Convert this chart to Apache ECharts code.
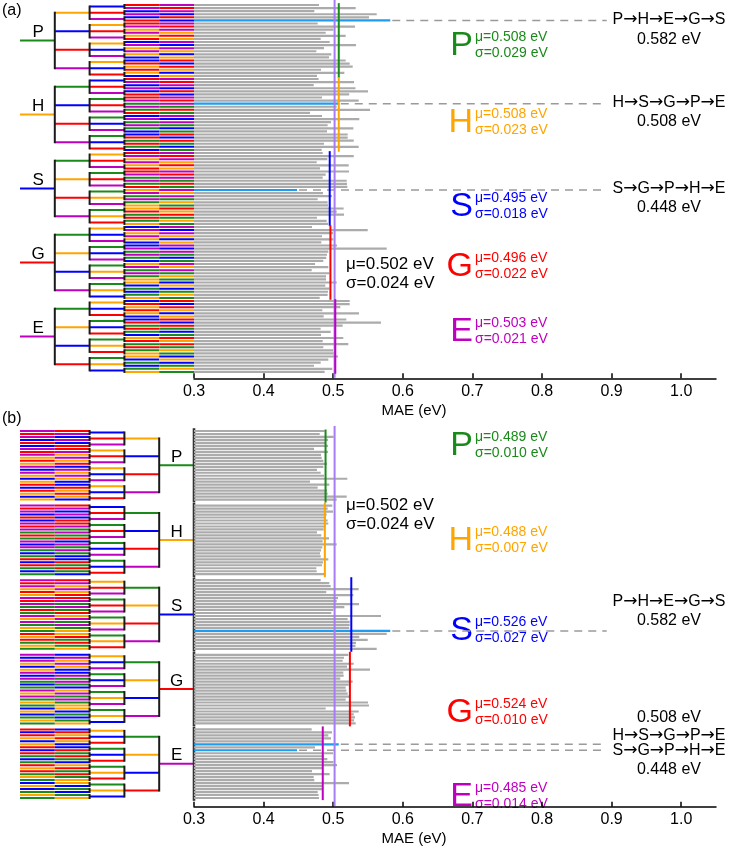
<!DOCTYPE html>
<html>
<head>
<meta charset="utf-8">
<script src="https://cdn.jsdelivr.net/npm/echarts@6/dist/echarts.min.js"></script>
<style>
html,body{margin:0;padding:0;background:#fff;}
#chart{width:748px;height:856px;}
</style>
</head>
<body>
<div id="chart"></div>
<script>
// ---------------- data ----------------
const elements = ['P', 'H', 'S', 'G', 'E'];
// MAE (eV) of every ordering, in canonical order (panel a, top to bottom), split by first element
const maeP = [0.4796,0.5323,0.4729,0.5625,0.5514,0.5820,0.4777,0.5313,0.5002,0.4892,0.5179,0.4820,
              0.4949,0.5328,0.4868,0.4758,0.4973,0.4940,0.5179,0.5237,0.5280,0.4825,0.5160,0.4767];
const maeH = [0.4790,0.5300,0.4720,0.5320,0.5500,0.5230,0.4839,0.5366,0.5080,0.5050,0.5529,0.4667,
              0.4839,0.5375,0.4968,0.4920,0.5290,0.4911,0.5208,0.5208,0.5295,0.4868,0.5366,0.4834];
const maeS = [0.4849,0.5295,0.4916,0.4763,0.5223,0.4810,0.5227,0.4892,0.4849,0.5194,0.5198,0.5203,
              0.4480,0.4853,0.4983,0.4777,0.4920,0.4925,0.5150,0.5050,0.5155,0.4767,0.4906,0.4925];
const maeG = [0.4695,0.5496,0.4997,0.4839,0.5002,0.4829,0.5055,0.5769,0.4930,0.4911,0.4900,0.4858,
              0.4739,0.4930,0.4691,0.4944,0.4897,0.4897,0.5050,0.4887,0.4944,0.4925,0.4920,0.4806];
const maeE = [0.5237,0.5237,0.5102,0.4844,0.5371,0.4863,0.5189,0.5687,0.5136,0.4820,0.4964,0.4825,
              0.5145,0.4849,0.5217,0.4858,0.4997,0.5007,0.5069,0.4930,0.4820,0.4724,0.4987,0.4877];
const groupMeanA = [0.508, 0.508, 0.495, 0.496, 0.503];
const groupStdA  = [0.029, 0.023, 0.018, 0.022, 0.021];
const groupMeanB = [0.489, 0.488, 0.526, 0.524, 0.485];
const groupStdB  = [0.010, 0.007, 0.027, 0.010, 0.014];
const overallMean = 0.502;
const overallStd = 0.024;
const highlighted = ['PHEGS', 'HSGPE', 'SGPHE'];
const axisMin = 0.3, axisMax = 1.05, axisStep = 0.1;

// ---------------- style ----------------
const FONT = '"Liberation Sans", Arial, sans-serif';
const COL = ['#1a8a1a', '#ffa500', '#0000ff', '#ff0000', '#bf00bf', '#1a1a1a', '#333333'];
const BAR = '#ababab', HL = '#1f9cf0', MEANCOL = '#a67cf7', DASH = '#9a9a9a';

// ---------------- build ----------------
function permute(a) {
  if (a.length === 1) return [a.slice()];
  const out = [];
  a.forEach((e, i) => {
    const rest = a.slice(0, i).concat(a.slice(i + 1));
    permute(rest).forEach(p => out.push([e].concat(p)));
  });
  return out;
}
const permsA = permute(elements);
const mae = maeP.concat(maeH, maeS, maeG, maeE);
const maeByKey = {};
permsA.forEach((p, i) => { maeByKey[p.join('')] = mae[i]; });
const permsB = permute(elements).map(q => q.slice().reverse());
const slotB = i => i + Math.floor(i / 24);
const ci = e => elements.indexOf(e);

const barsA = permsA.map((p, i) => { const k = p.join(''); return [maeByKey[k], i, highlighted.indexOf(k) >= 0 ? 1 : 0]; });
const barsB = permsB.map((p, i) => { const k = p.join(''); return [maeByKey[k], slotB(i), highlighted.indexOf(k) >= 0 ? 1 : 0]; });

// tree A (root on the left)
const segA = [], brA = [], labA = [];
for (let g = 0; g < 5; g++) {
  const b0 = g * 24, cg = b0 + 11.5;
  segA.push([0, cg, 1, cg, g]);
  labA.push([0.52, cg, g]);
  brA.push([1, b0 + 2.5, 1, b0 + 18 + 2.5, 5]);
  for (let s = 0; s < 4; s++) {
    const b1 = b0 + s * 6, cs = b1 + 2.5;
    segA.push([1, cs, 2, cs, ci(permsA[b1][1])]);
    brA.push([2, b1 + 0.5, 2, b1 + 4.5, 5]);
    for (let t = 0; t < 3; t++) {
      const b2 = b1 + t * 2;
      segA.push([2, b2 + 0.5, 3, b2 + 0.5, ci(permsA[b2][2])]);
      brA.push([3, b2, 3, b2 + 1, 5]);
      for (let l = 0; l < 2; l++) {
        const r = b2 + l;
        segA.push([3, r, 4, r, ci(permsA[r][3])]);
        segA.push([4, r, 5, r, ci(permsA[r][4])]);
      }
    }
  }
}
// tree B (leaves on the left)
const segB = [], brB = [], labB = [];
for (let g = 0; g < 5; g++) {
  const b0 = g * 24, first = slotB(b0), last = slotB(b0 + 23), cg = (first + last) / 2;
  segB.push([4, cg, 5, cg, g]);
  labB.push([4.5, cg, g]);
  brB.push([5, first - 0.5, 5, last + 0.5, 6]);
  brB.push([4, first + 2.5, 4, first + 18 + 2.5, 5]);
  for (let s = 0; s < 4; s++) {
    const b1 = b0 + s * 6, sl = slotB(b1), cs = sl + 2.5;
    segB.push([3, cs, 4, cs, ci(permsB[b1][3])]);
    brB.push([3, sl + 0.5, 3, sl + 4.5, 5]);
    for (let t = 0; t < 3; t++) {
      const b2 = b1 + t * 2, s2 = slotB(b2);
      segB.push([2, s2 + 0.5, 3, s2 + 0.5, ci(permsB[b2][2])]);
      brB.push([2, s2, 2, s2 + 1, 5]);
      for (let l = 0; l < 2; l++) {
        const r = b2 + l, sr = slotB(r);
        segB.push([0, sr, 1, sr, ci(permsB[r][0])]);
        segB.push([1, sr, 2, sr, ci(permsB[r][1])]);
      }
    }
  }
}

// group mean lines
const meanA = groupMeanA.map((m, g) => [m, g * 24 - 0.6, g * 24 + 23.6, g]);
const meanB = groupMeanB.map((m, g) => [m, g === 0 ? -0.5 : g * 25 - 1, g * 25 + 24 - (g === 4 ? 0.3 : 0), g]);

// dashed leaders
const dashEnd = 0.893;
const dashA = barsA.filter(d => d[2]).map(d => [d[0], d[1], dashEnd, d[1]]);
const dashB = barsB.filter(d => d[2]).map(d => [d[0], d[1], dashEnd, d[1]]);

// ---------------- render helpers ----------------
function renderBar(params, api) {
  const v = api.value(0), r = api.value(1), hl = api.value(2);
  const a = api.coord([axisMin, r]), b = api.coord([v, r]);
  return { type: 'rect', shape: { x: a[0], y: a[1] - 1.1, width: b[0] - a[0], height: 2.2 },
           style: { fill: hl ? HL : BAR } };
}
function renderSeg(width, cap) {
  return function (params, api) {
    const a = api.coord([api.value(0), api.value(1)]), b = api.coord([api.value(2), api.value(3)]);
    const c = api.value(4);
    return { type: 'line', shape: { x1: a[0], y1: a[1], x2: b[0], y2: b[1] },
             style: { stroke: COL[c], lineWidth: c === 6 ? 2.6 : width, lineCap: cap } };
  };
}
function renderLabel(params, api) {
  const p = api.coord([api.value(0), api.value(1)]);
  return { type: 'text', x: p[0], y: p[1] - 8,
           style: { text: elements[api.value(2)], font: '17px ' + FONT, fill: '#000', align: 'center', verticalAlign: 'middle' } };
}
function renderVLine(params, api) {
  const a = api.coord([api.value(0), api.value(1)]), b = api.coord([api.value(0), api.value(2)]);
  return { type: 'line', shape: { x1: a[0], y1: a[1], x2: b[0], y2: b[1] },
           style: { stroke: COL[api.value(3)], lineWidth: 2 } };
}
function renderDash(params, api) {
  const a = api.coord([api.value(0), api.value(1)]), b = api.coord([api.value(2), api.value(3)]);
  return { type: 'line', shape: { x1: a[0] + 2, y1: a[1], x2: b[0], y2: b[1] },
           style: { stroke: DASH, lineWidth: 1.5, lineDash: [8, 6] } };
}
function renderOverall(params, api) {
  const a = api.coord([api.value(0), api.value(1)]), b = api.coord([api.value(0), api.value(2)]);
  return { type: 'line', shape: { x1: a[0], y1: a[1], x2: b[0], y2: b[1] },
           style: { stroke: MEANCOL, lineWidth: 2 } };
}

// ---------------- texts ----------------
function txt(x, y, text, size, color, align) {
  return { type: 'text', x: x, y: y, silent: true,
           style: { text: text, fill: color, font: size + 'px ' + FONT, align: align || 'left', verticalAlign: 'middle' } };
}
function pathTxt(x, y, key) {
  return { type: 'text', x: x, y: y, silent: true,
           style: { text: key.split('').join('{ar|\u2192}'), fill: '#000', font: '16px ' + FONT,
                    align: 'center', verticalAlign: 'middle',
                    rich: { ar: { font: '17px "DejaVu Sans"', fill: '#000', verticalAlign: 'middle' } } } };
}
const graphics = [];
graphics.push(txt(2, 11, '(a)', 16, '#000'));
graphics.push(txt(2, 419, '(b)', 16, '#000'));
const letterYA = [45, 122, 206, 266, 331];
const letterYB = [445, 540, 630, 712, 796];
for (let g = 0; g < 5; g++) {
  graphics.push(txt(473, letterYA[g] + 1, elements[g], 34, COL[g], 'right'));
  graphics.push(txt(475, letterYA[g] - 8, '\u03bc=' + groupMeanA[g].toFixed(3) + ' eV', 14, COL[g]));
  graphics.push(txt(475, letterYA[g] + 8, '\u03c3=' + groupStdA[g].toFixed(3) + ' eV', 14, COL[g]));
  graphics.push(txt(473, letterYB[g] + 1, elements[g], 34, COL[g], 'right'));
  graphics.push(txt(475, letterYB[g] - 8, '\u03bc=' + groupMeanB[g].toFixed(3) + ' eV', 14, COL[g]));
  graphics.push(txt(475, letterYB[g] + 8, '\u03c3=' + groupStdB[g].toFixed(3) + ' eV', 14, COL[g]));
}
graphics.push(txt(346, 264, '\u03bc=' + overallMean.toFixed(3) + ' eV', 17, '#000'));
graphics.push(txt(346, 283, '\u03c3=' + overallStd.toFixed(3) + ' eV', 17, '#000'));
graphics.push(txt(346, 505, '\u03bc=' + overallMean.toFixed(3) + ' eV', 17, '#000'));
graphics.push(txt(346, 524, '\u03c3=' + overallStd.toFixed(3) + ' eV', 17, '#000'));
// right-hand labels
const hlA = [[20, 40], [103, 122], [189, 208]];
highlighted.forEach((k, i) => {
  graphics.push(pathTxt(669, hlA[i][0], k));
  graphics.push(txt(669, hlA[i][1], maeByKey[k].toFixed(3) + ' eV', 16, '#000', 'center'));
});
const hlB = [[602, 621], [736, 718], [751, 770]];
highlighted.forEach((k, i) => {
  graphics.push(pathTxt(669, hlB[i][0], k));
  graphics.push(txt(669, hlB[i][1], maeByKey[k].toFixed(3) + ' eV', 16, '#000', 'center'));
});
graphics.push(txt(414, 411, 'MAE (eV)', 15, '#000', 'center'));
graphics.push(txt(414, 839, 'MAE (eV)', 15, '#000', 'center'));

// ---------------- option ----------------
const hiddenX = i => ({ gridIndex: i, type: 'value', min: 0, max: 5, show: false });
const barX = (i, off) => ({
  gridIndex: i, type: 'value', min: axisMin, max: axisMax, interval: axisStep, position: 'bottom', offset: off,
  axisLine: { show: true, onZero: false, lineStyle: { color: '#000', width: 1.5 } },
  axisTick: { show: true, inside: true, length: 5, lineStyle: { color: '#000', width: 1.5 } },
  axisLabel: { margin: 5, fontSize: 16, fontFamily: '"Liberation Sans", Arial', color: '#000',
               formatter: v => v.toFixed(1), showMaxLabel: false },
  splitLine: { show: false }
});
const hiddenY = (i, n) => ({ gridIndex: i, type: 'value', min: -0.5, max: n - 0.5, inverse: true, show: false });

const option = {
  animation: false,
  backgroundColor: '#fff',
  grid: [
    { left: 20, top: 3.46, width: 174, height: 370, containLabel: false, outerBoundsMode: 'none' },
    { left: 194, top: 3.46, width: 522, height: 370, containLabel: false, outerBoundsMode: 'none' },
    { left: 20, top: 429.5, width: 174, height: 370, containLabel: false, outerBoundsMode: 'none' },
    { left: 194, top: 429.5, width: 522, height: 370, containLabel: false, outerBoundsMode: 'none' }
  ],
  xAxis: [hiddenX(0), barX(1, 4.8), hiddenX(2), barX(3, 7.2)],
  yAxis: [hiddenY(0, 120), hiddenY(1, 120), hiddenY(2, 124), hiddenY(3, 124)],
  graphic: graphics,
  series: [
    { type: 'custom', xAxisIndex: 0, yAxisIndex: 0, data: segA, renderItem: renderSeg(2, 'butt'), encode: { x: [0, 2], y: [1, 3] }, clip: false, silent: true },
    { type: 'custom', xAxisIndex: 0, yAxisIndex: 0, data: brA, renderItem: renderSeg(2, 'square'), encode: { x: [0, 2], y: [1, 3] }, clip: false, silent: true },
    { type: 'custom', xAxisIndex: 0, yAxisIndex: 0, data: labA, renderItem: renderLabel, encode: { x: 0, y: 1 }, clip: false, silent: true },
    { type: 'custom', xAxisIndex: 1, yAxisIndex: 1, data: barsA, renderItem: renderBar, encode: { x: 0, y: 1 }, clip: false, silent: true },
    { type: 'custom', xAxisIndex: 1, yAxisIndex: 1, data: dashA, renderItem: renderDash, encode: { x: [0, 2], y: [1, 3] }, clip: false, silent: true },
    { type: 'custom', xAxisIndex: 1, yAxisIndex: 1, data: [[overallMean, -1.6, 120.9]], renderItem: renderOverall, encode: { x: 0, y: [1, 2] }, clip: false, silent: true },
    { type: 'custom', xAxisIndex: 1, yAxisIndex: 1, data: meanA, renderItem: renderVLine, encode: { x: 0, y: [1, 2] }, clip: false, silent: true },

    { type: 'custom', xAxisIndex: 2, yAxisIndex: 2, data: segB, renderItem: renderSeg(2, 'butt'), encode: { x: [0, 2], y: [1, 3] }, clip: false, silent: true },
    { type: 'custom', xAxisIndex: 2, yAxisIndex: 2, data: brB, renderItem: renderSeg(2, 'square'), encode: { x: [0, 2], y: [1, 3] }, clip: false, silent: true },
    { type: 'custom', xAxisIndex: 2, yAxisIndex: 2, data: labB, renderItem: renderLabel, encode: { x: 0, y: 1 }, clip: false, silent: true },
    { type: 'custom', xAxisIndex: 3, yAxisIndex: 3, data: barsB, renderItem: renderBar, encode: { x: 0, y: 1 }, clip: false, silent: true },
    { type: 'custom', xAxisIndex: 3, yAxisIndex: 3, data: dashB, renderItem: renderDash, encode: { x: [0, 2], y: [1, 3] }, clip: false, silent: true },
    { type: 'custom', xAxisIndex: 3, yAxisIndex: 3, data: [[overallMean, -1.7, 125.7]], renderItem: renderOverall, encode: { x: 0, y: [1, 2] }, clip: false, silent: true },
    { type: 'custom', xAxisIndex: 3, yAxisIndex: 3, data: meanB, renderItem: renderVLine, encode: { x: 0, y: [1, 2] }, clip: false, silent: true }
  ]
};
const chart = echarts.init(document.getElementById('chart'), null, { renderer: 'canvas', width: 748, height: 856 });
chart.setOption(option);
</script>
</body>
</html>
